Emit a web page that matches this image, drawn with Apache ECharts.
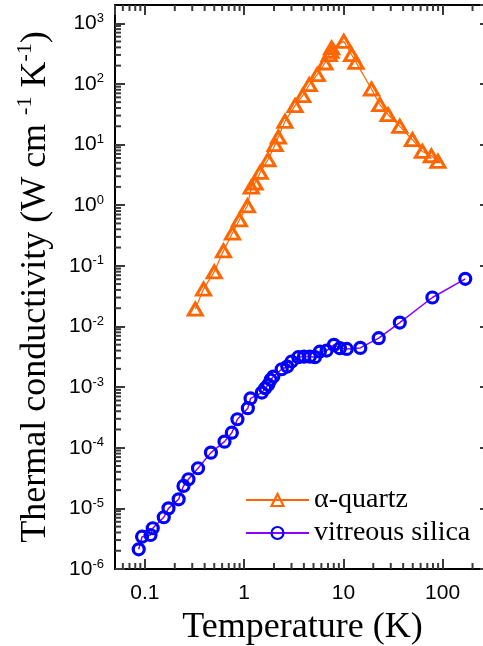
<!DOCTYPE html>
<html>
<head>
<meta charset="utf-8">
<script src="https://cdn.jsdelivr.net/npm/echarts@6/dist/echarts.min.js"></script>
<style>
  html, body { margin: 0; padding: 0; background: #fff; }
  #chart { width: 483px; height: 646px; }
</style>
</head>
<body>
<div id="chart"></div>
<script>
// Thermal conductivity (W cm^-1 K^-1) versus temperature (K)
const seriesNames = ['\u03b1-quartz', 'vitreous silica'];

// α-quartz
const quartzT = [0.322, 0.390, 0.500, 0.619, 0.763, 0.897, 1.08, 1.18, 1.29, 1.45, 1.74, 2.05, 2.21,
  2.58, 3.26, 3.89, 4.53, 5.45, 6.52, 7.20, 7.49, 7.61, 10.1, 12.1, 13.4, 19.2, 23.3, 28.2, 37.0,
  49.6, 62.5, 76.9, 89.7];
const quartzK = [0.0193, 0.0413, 0.0796, 0.177, 0.347, 0.574, 0.977, 1.99, 2.32, 3.47, 5.61, 9.93, 13.3,
  24.1, 43.7, 63.9, 97.0, 142, 221, 303, 344, 391, 502, 303, 226, 82.4, 45.4, 31.0, 19.9,
  12.0, 7.69, 6.53, 5.26];

// vitreous silica
const silicaT = [0.0867, 0.0937, 0.114, 0.120, 0.155, 0.173, 0.219, 0.245, 0.275, 0.343, 0.463, 0.634,
  0.752, 0.856, 1.09, 1.16, 1.51, 1.63, 1.75, 1.85, 1.97, 2.39, 2.72, 3.01, 3.51, 4.01, 4.60, 5.17,
  5.80, 6.78, 8.03, 9.22, 10.8, 14.8, 22.7, 37.0, 78.8, 169];
const silicaK = [2.11e-6, 3.41e-6, 3.64e-6, 4.70e-6, 7.13e-6, 1.00e-5, 1.41e-5, 2.34e-5, 3.02e-5, 4.59e-5,
  8.30e-5, 1.26e-4, 1.77e-4, 2.95e-4, 4.49e-4, 6.50e-4, 8.11e-4, 9.59e-4, 1.09e-3, 1.32e-3, 1.49e-3,
  1.97e-3, 2.18e-3, 2.64e-3, 3.11e-3, 3.18e-3, 3.18e-3, 3.11e-3, 3.85e-3, 4.00e-3, 4.97e-3, 4.38e-3,
  4.26e-3, 4.43e-3, 6.41e-3, 0.0116, 0.0300, 0.0610];

// axis tick labels
const xTickLabels = ['0.1', '1', '10', '100'];       // decades 10^-1 .. 10^2
const yTickExponents = [-6, -5, -4, -3, -2, -1, 0, 1, 2, 3];

const X_MIN = 0.05, X_MAX = 300;
const Y_MIN = 1e-6, Y_MAX = 2000;

const zip = (a, b) => a.map((v, i) => [v, b[i]]);

// log-style minor tick values (2..9 within each decade)
const xMinorValues = [], yMinorValues = [];
for (let e = -2; e <= 2; e++) {
  for (let m = 2; m <= 9; m++) {
    const v = m * Math.pow(10, e);
    if (v > X_MIN * 1.01 && v < X_MAX * 0.99) xMinorValues.push(v);
  }
}
for (let e = -6; e <= 3; e++) {
  for (let m = 2; m <= 9; m++) {
    const v = m * Math.pow(10, e);
    if (v > Y_MIN * 1.01 && v < Y_MAX * 0.99) yMinorValues.push(v);
  }
}

const TICK_COLOR = '#3a3a3a';
const MINOR_LEN = 6, TICK_W = 2;

// a minor tick drawn as a thin rect sitting on a frame edge, pointing inward
function minorTickSeries(data, size, offset) {
  return {
    type: 'scatter', silent: true, clip: false, z: 5,
    xAxisIndex: 0, yAxisIndex: 0,
    symbol: 'rect', symbolSize: size, symbolOffset: offset,
    itemStyle: { color: TICK_COLOR, opacity: 1 },
    data: data
  };
}

const axisLineStyle = { color: '#000', width: 2 };
const majorTick = { show: true, inside: true, length: 10, lineStyle: { color: TICK_COLOR, width: 2 } };
const tickFont = { fontFamily: 'Liberation Sans', color: '#000' };

const chart = echarts.init(document.getElementById('chart'), null, { renderer: 'canvas' });

chart.setOption({
  animation: false,
  backgroundColor: '#fff',
  grid: { left: 115, top: 5, width: 375, height: 564, outerBoundsMode: 'none', containLabel: false },
  xAxis: [
    {
      type: 'log', logBase: 10, min: X_MIN, max: X_MAX, position: 'bottom',
      axisLine: { show: true, onZero: false, lineStyle: axisLineStyle },
      axisTick: majorTick,
      splitLine: { show: false },
      axisLabel: {
        ...tickFont, fontSize: 21, margin: 14, showMinLabel: false, showMaxLabel: false,
        formatter: v => xTickLabels[Math.round(Math.log10(v)) + 1] || ''
      },
      name: 'Temperature (K)', nameLocation: 'middle', nameGap: 41,
      nameTextStyle: { fontFamily: 'Liberation Serif', fontSize: 36, color: '#000' }
    },
    {
      type: 'log', logBase: 10, min: X_MIN, max: X_MAX, position: 'top',
      axisLine: { show: true, onZero: false, lineStyle: axisLineStyle },
      axisTick: majorTick, axisLabel: { show: false }, splitLine: { show: false }
    }
  ],
  yAxis: [
    {
      type: 'log', logBase: 10, min: Y_MIN, max: Y_MAX, position: 'left',
      axisLine: { show: true, onZero: false, lineStyle: axisLineStyle },
      axisTick: majorTick,
      splitLine: { show: false },
      axisLabel: {
        margin: 11, showMinLabel: true, showMaxLabel: false,
        formatter: v => {
          const e = Math.round(Math.log10(v));
          return yTickExponents.indexOf(e) >= 0 ? '{b|10}{s|' + e + '}' : '';
        },
        rich: {
          b: { ...tickFont, fontSize: 21 },
          s: { ...tickFont, fontSize: 13, verticalAlign: 'top', padding: [0, 0, 10, 0] }
        }
      },
      name: 'Thermal conductivity (W cm {s|-1} K{s|-1})', nameLocation: 'middle', nameGap: 57,
      nameRotate: 90,
      nameTextStyle: {
        fontFamily: 'Liberation Serif', fontSize: 36, color: '#000',
        rich: {
          s: { fontFamily: 'Liberation Serif', fontSize: 22, color: '#000', verticalAlign: 'top', padding: [0, 0, 22, 0] }
        }
      }
    },
    {
      type: 'log', logBase: 10, min: Y_MIN, max: Y_MAX, position: 'right',
      axisLine: { show: true, onZero: false, lineStyle: axisLineStyle },
      axisTick: majorTick, axisLabel: { show: false }, splitLine: { show: false }
    }
  ],
  legend: {
    data: seriesNames,
    orient: 'vertical', left: 240, top: 481,
    itemWidth: 63, itemHeight: 15, itemGap: 5,
    itemStyle: { borderWidth: 2.2 },
    textStyle: { fontFamily: 'Liberation Serif', fontSize: 28, color: '#000' },
    selectedMode: false
  },
  series: [
    minorTickSeries(xMinorValues.map(v => [v, Y_MIN]), [TICK_W, MINOR_LEN], [0, -MINOR_LEN / 2]),
    minorTickSeries(xMinorValues.map(v => [v, Y_MAX]), [TICK_W, MINOR_LEN], [0, MINOR_LEN / 2]),
    minorTickSeries(yMinorValues.map(v => [X_MIN, v]), [MINOR_LEN, TICK_W], [MINOR_LEN / 2, 0]),
    minorTickSeries(yMinorValues.map(v => [X_MAX, v]), [MINOR_LEN, TICK_W], [-MINOR_LEN / 2, 0]),
    {
      type: 'line', name: seriesNames[0], xAxisIndex: 0, yAxisIndex: 0,
      data: zip(quartzT, quartzK),
      symbol: 'triangle', symbolSize: [14, 12], showAllSymbol: true,
      itemStyle: { color: 'none', borderColor: '#ff6600', borderWidth: 3 },
      lineStyle: { color: '#ff6600', width: 1.2 },
      z: 3
    },
    {
      type: 'line', name: seriesNames[1], xAxisIndex: 0, yAxisIndex: 0,
      data: zip(silicaT, silicaK),
      symbol: 'circle', symbolSize: 11, showAllSymbol: true,
      itemStyle: { color: 'none', borderColor: '#0000ff', borderWidth: 3.2 },
      lineStyle: { color: '#8b00ff', width: 1.5 },
      z: 3
    }
  ]
});
</script>
</body>
</html>
